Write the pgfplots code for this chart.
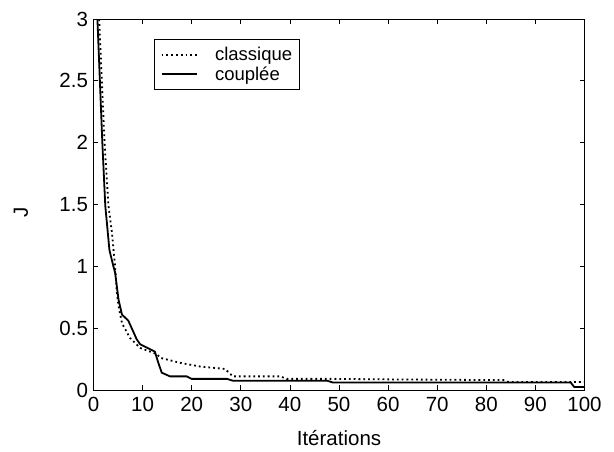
\documentclass[border=0pt]{standalone}
\usepackage{fontspec}
\setmainfont{Liberation Sans}
\usepackage{pgfplots}
\pgfplotsset{compat=1.18}
\begin{document}
\begin{tikzpicture}[x=1pt,y=1pt]
\useasboundingbox (-93.5,-61) rectangle (520.5,390);
\begin{axis}[
  at={(0,0)}, anchor=south west,
  scale only axis, width=491pt, height=371pt,
  xmin=0, xmax=100, ymin=0, ymax=3,
  xtick={0,10,...,100}, ytick={0,0.5,1,1.5,2,2.5,3},
  tick align=inside, tick pos=both,
  major tick length=5pt,
  axis line style={line width=0.7pt},
  every tick/.style={black, line width=0.7pt},
  /pgf/number format/assume math mode=true,
  tick label style={font=\fontsize{20.5}{22}\selectfont},
  xticklabel style={yshift=-4pt},
  yticklabel style={xshift=-2pt},
  label style={font=\fontsize{20.5}{22}\selectfont},
  xlabel={Itérations}, ylabel={J},
  xlabel style={at={(axis description cs:0.5,-0.129)}, anchor=center},
  ylabel style={at={(axis description cs:-0.148,0.48)}, anchor=center},
  legend style={at={(axis description cs:0.124,0.946)}, anchor=north west,
    font=\fontsize{18.5}{21}\selectfont, draw=black, line width=0.7pt,
    inner xsep=6pt, inner ysep=7pt, row sep=2.2pt, column sep=16pt,
    nodes={inner sep=1pt}},
  legend cell align=left,
  legend image code/.code={\draw[#1] (1pt,0pt) -- (36.5pt,0pt);},
]
\addplot[black, line width=1.8pt, dash pattern=on 1.8pt off 3pt] coordinates {
(0,4.2) (1.15,3.0) (2.25,2.0) (3.05,1.49) (3.76,1.27) (4.4,1.0) (4.75,0.79)
(5.1,0.68) (5.8,0.54) (7.45,0.42) (9.5,0.34) (12.9,0.29) (13.6,0.26)
(17.6,0.22) (21.7,0.19) (26.8,0.17) (28.4,0.11) (38.0,0.11) (39.4,0.09)
(49,0.09) (62.5,0.085) (83.5,0.08) (84.5,0.065) (100,0.065)
};
\addlegendentry{classique}
\addplot[black, line width=1.8pt] coordinates {
(0,3.8) (0.8,3.0) (1.8,2.0) (2.4,1.49) (3.25,1.13) (3.75,1.05) (4.05,1.0)
(4.4,0.95) (5.1,0.73) (5.8,0.61) (7.1,0.56) (8.8,0.41) (9.5,0.37)
(12.5,0.31) (13.2,0.22) (13.9,0.14) (15.6,0.11) (19.0,0.11) (20.0,0.09)
(27.2,0.09) (28.4,0.075) (47.6,0.075) (48.8,0.06) (97.2,0.06) (97.9,0.025)
(100,0.025)
};
\addlegendentry{couplée}
\end{axis}
\end{tikzpicture}
\end{document}
